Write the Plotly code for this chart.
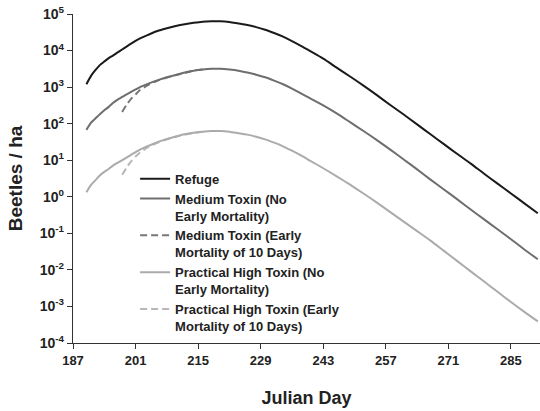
import plotly.graph_objects as go

# Julian days sampled for the full-season curves
days = [190, 191, 192, 193, 194, 195, 196, 197, 198, 200, 202, 204, 206, 208,
        210, 212, 214, 216, 218, 220, 222, 224, 226, 228, 230, 232, 234, 236,
        238, 240, 243, 246, 249, 252, 255, 258, 261, 264, 267, 270, 273, 276,
        279, 282, 285, 288, 291]

refuge = [1.2e3, 2.0e3, 2.9e3, 4.0e3, 5.0e3, 6.2e3, 7.4e3, 8.9e3, 1.07e4, 1.55e4,
          2.14e4, 2.75e4, 3.47e4, 4.07e4, 4.68e4, 5.25e4, 5.75e4, 6.17e4, 6.31e4,
          6.31e4, 6.03e4, 5.50e4, 5.01e4, 4.37e4, 3.72e4, 3.02e4, 2.40e4, 1.82e4,
          1.35e4, 9.8e3, 6.0e3, 3.4e3, 1.95e3, 1.10e3, 603, 324, 178, 95.5, 51.3,
          27.5, 14.8, 8.1, 4.27, 2.29, 1.23, 0.66, 0.355]

medium = [67.6, 105, 138, 182, 234, 288, 372, 457, 537, 741, 1000, 1260, 1550,
          1860, 2140, 2510, 2820, 3020, 3160, 3160, 3020, 2820, 2510, 2190, 1860,
          1510, 1200, 912, 676, 501, 316, 191, 110, 63.1, 35.5, 19.5, 10.5, 5.62,
          2.95, 1.58, 0.851, 0.447, 0.240, 0.129, 0.0692, 0.0363, 0.0195]

practical = [1.32, 2.09, 2.82, 3.80, 4.79, 5.75, 7.24, 8.51, 10.0, 14.1, 19.5, 25.1,
             31.6, 38.0, 44.7, 51.3, 56.2, 60.3, 63.1, 63.1, 60.3, 55.0, 50.1, 43.7,
             37.2, 30.2, 24.0, 18.2, 13.5, 9.77, 6.03, 3.63, 2.14, 1.23, 0.692,
             0.380, 0.209, 0.115, 0.0631, 0.0331, 0.0174, 0.00912, 0.00479,
             0.00251, 0.00132, 0.00071, 0.00039]

# Early-mortality runs begin later and merge with the no-mortality curves
days_early = [198, 199, 200, 201, 202, 204, 206, 208, 210, 212, 214, 216]
medium_early = [209, 331, 479, 631, 832, 1170, 1510, 1820, 2140, 2450, 2820, 3020]
practical_early = [3.98, 6.31, 9.33, 12.6, 16.2, 23.4, 30.2, 37.2, 43.7, 50.1, 56.2, 60.3]

x_ticks = [187, 201, 215, 229, 243, 257, 271, 285]
y_exponents = [5, 4, 3, 2, 1, 0, -1, -2, -3, -4]

FONT = "Liberation Sans, Arial, sans-serif"
AXIS_COLOR = "#333333"
TEXT_COLOR = "#222222"


def curve(x, y, name, color, rank, dash="solid"):
    return go.Scatter(x=x, y=y, mode="lines", name=f"<b>{name}</b>",
                      line=dict(color=color, width=2, dash=dash,
                                shape="spline", smoothing=0.7),
                      legendrank=rank)


fig = go.Figure()

# dashed runs drawn first so the solid lines sit on top where they coincide
fig.add_trace(curve(days_early, medium_early,
                    "Medium Toxin (Early<br>Mortality of 10 Days)", "#777777", 3, "7px,4px"))
fig.add_trace(curve(days_early, practical_early,
                    "Practical High Toxin (Early<br>Mortality of 10 Days)", "#b8b8b8", 5, "7px,4px"))
fig.add_trace(curve(days, refuge, "Refuge", "#1a1a1a", 1))
fig.add_trace(curve(days, medium, "Medium Toxin (No<br>Early Mortality)", "#6e6e6e", 2))
fig.add_trace(curve(days, practical, "Practical High Toxin (No<br>Early Mortality)", "#ababab", 4))

fig.update_layout(
    width=540, height=411,
    margin=dict(l=73, r=0, t=14, b=68),
    paper_bgcolor="white", plot_bgcolor="white",
    font=dict(family=FONT, color=TEXT_COLOR),
    showlegend=True,
    legend=dict(x=0.133, y=0.545, xanchor="left", yanchor="top",
                bgcolor="rgba(0,0,0,0)", valign="top",
                font=dict(family=FONT, size=13, color=TEXT_COLOR),
                traceorder="normal"),
    xaxis=dict(
        range=[187, 291.5], tickvals=x_ticks, ticktext=[f"<b>{v}</b>" for v in x_ticks],
        showgrid=False, zeroline=False, showline=True, linecolor=AXIS_COLOR,
        linewidth=1.3, ticks="outside", ticklen=5, tickcolor=AXIS_COLOR,
        tickfont=dict(family=FONT, size=13, color=TEXT_COLOR),
        title=dict(text="<b>Julian Day</b>", font=dict(family=FONT, size=18, color=TEXT_COLOR),
                   standoff=24),
    ),
    yaxis=dict(
        type="log", range=[-4, 5],
        tickvals=[10.0 ** e for e in y_exponents],
        ticktext=[f"<b>10<sup>{e}</sup></b>" for e in y_exponents],
        showgrid=False, zeroline=False, showline=True, linecolor=AXIS_COLOR,
        linewidth=1.3, ticks="outside", ticklen=5, tickcolor=AXIS_COLOR,
        tickfont=dict(family=FONT, size=14, color=TEXT_COLOR),
        title=dict(text="<b>Beetles / ha</b>", font=dict(family=FONT, size=19, color=TEXT_COLOR),
                   standoff=12),
    ),
)

fig.write_html("out.html")
